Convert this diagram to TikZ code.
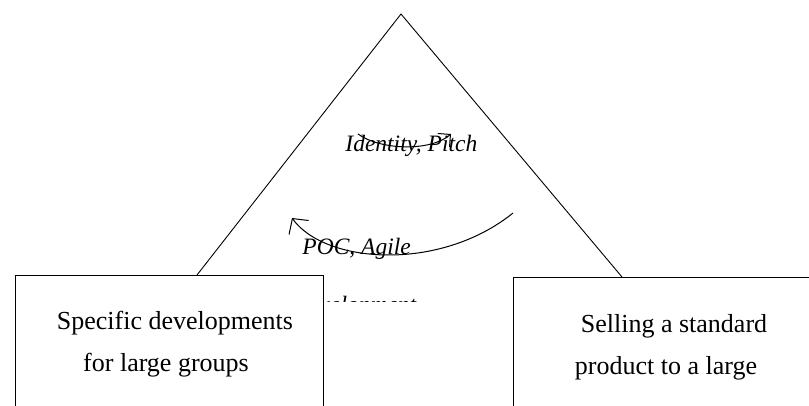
\documentclass[tikz,border=0pt]{standalone}
\usepackage{fontspec}
\setmainfont{Liberation Serif}
\usetikzlibrary{arrows.meta}
\begin{document}
\begin{tikzpicture}[x=1pt,y=-1pt,line width=0.9pt,
  boxtext/.style={font=\fontsize{26}{30}\selectfont,inner sep=0pt,anchor=base},
  ittext/.style={font=\fontsize{23.5}{28}\selectfont\itshape,inner sep=0pt,anchor=base west},
  panel/.style={draw,fill=white,anchor=north west,inner sep=0pt,line width=1.2pt},
  flow/.style={-{Straight Barb[length=11pt,width=24pt]},line width=1pt},
  smallflow/.style={-{Straight Barb[length=9pt,width=18pt]},line width=1pt}]
\useasboundingbox (0,0) rectangle (809,405);
\clip (0,0) rectangle (809,405);
% triangle
\coordinate (apex) at (401,14);
\coordinate (lfoot) at (197,275);
\coordinate (rfoot) at (622,277);
\draw (lfoot) -- (apex) -- (rfoot);
% italic texts
\node[ittext] (ident) at (345,151) {Identity, Pitch};
\node[ittext] (poc) at (302,254) {POC, Agile};
\begin{scope}
  \clip (0,0) rectangle (809,301);
  \node[ittext] (dev) at (297,312) {development};
\end{scope}
% boxes
\node[panel,minimum width=308pt,minimum height=160pt] (lbox) at (15,275) {};
\node[panel,minimum width=320pt,minimum height=160pt] (rbox) at (513,277) {};
\node[boxtext] (l1) at (175,329) {Specific developments};
\node[boxtext] (l2) at (166,371) {for large groups};
\node[boxtext] (r1) at (674,332) {Selling a standard};
\node[boxtext] (r2) at (666,374) {product to a large};
% arrows
\coordinate (a1s) at (358,134);
\coordinate (a1e) at (451,134);
\draw[smallflow] (a1s) .. controls (380,150) and (430,152) .. (a1e);
\coordinate (a2s) at (513,213);
\coordinate (a2e) at (292,218);
\draw[flow] (a2s) .. controls (440,272) and (325,264) .. (a2e);
\end{tikzpicture}
\end{document}
